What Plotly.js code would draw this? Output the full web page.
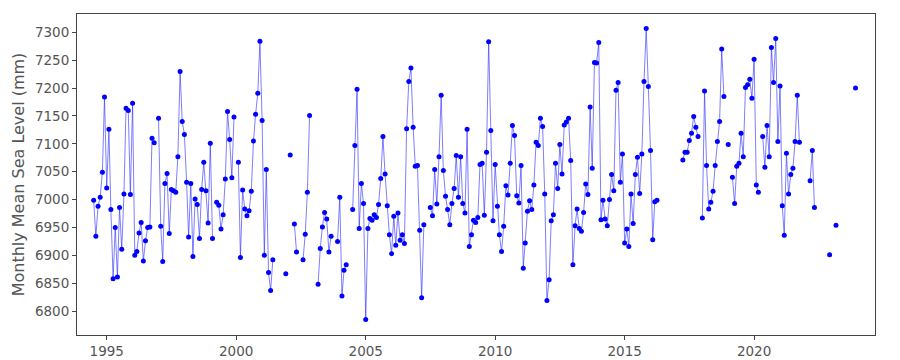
<!DOCTYPE html>
<html>
<head>
<meta charset="utf-8">
<script src="https://cdn.plot.ly/plotly-3.0.1.min.js"></script>
<style>
  html, body { margin: 0; padding: 0; background: #ffffff; }
  #chart { width: 900px; height: 360px; }
</style>
</head>
<body>
<div id="chart"></div>
<script>
// Monthly mean sea level (mm); each segment = start month + consecutive monthly values.
// Gaps between segments are missing months (line is broken there).
const seg01Start = '1994-07'; const seg01 = [6999, 6934, 6988, 7004, 7049, 7184, 7021, 7126, 6982, 6858, 6950, 6861, 6986, 6911, 7010, 7164, 7160, 7009, 7173, 6900, 6907, 6940, 6959, 6890, 6926, 6950, 6951, 7110, 7102];
const seg02Start = '1997-01'; const seg02 = [7146, 6952, 6889, 7029, 7047, 6939, 7018, 7016, 7013, 7077, 7230, 7140, 7117, 7031, 6933, 7029, 6898, 7001, 6991, 6930, 7018, 7067, 7016, 6958, 7101, 6930];
const seg03Start = '1999-04'; const seg03 = [6995, 6990, 6947, 6973, 7037, 7158, 7108, 7039, 7148];
const seg04Start = '2000-02'; const seg04 = [7067, 6896, 7017, 6983, 6971, 6980, 7015, 7105, 7153, 7191, 7284, 7142, 6900, 7054, 6869, 6837, 6892];
const seg05Start = '2001-12'; const seg05 = [6867];
const seg06Start = '2002-02'; const seg06 = [7080];
const seg07Start = '2002-04'; const seg07 = [6956, 6906];
const seg08Start = '2002-08'; const seg08 = [6892, 6938, 7013, 7151];
const seg09Start = '2003-03'; const seg09 = [6848, 6912, 6951, 6977, 6965, 6906, 6934];
const seg10Start = '2003-12'; const seg10 = [6925, 7004, 6827, 6873, 6883];
const seg11Start = '2004-07'; const seg11 = [6982, 7097, 7198, 6948, 7029, 6993, 6785, 6948, 6966, 6963, 6973, 6968, 6991, 7038, 7113, 7046, 6989, 6937, 6903, 6970, 6918, 6976, 6927, 6937, 6921, 7127, 7212, 7236, 7130, 7060, 7061, 6945, 6824, 6955];
const seg12Start = '2007-07'; const seg12 = [6986, 6971, 7054, 6992, 7077, 7187, 7052, 7006, 6982, 6955, 6993, 7020, 7079, 7004, 7077, 6993, 6976, 7126, 6916, 6937, 6963, 6959, 6968, 7063, 7065, 6972, 7085, 7283, 7124, 6962, 7063, 6988, 6937, 6907, 6952, 7025, 7008, 7065, 7133, 7115, 7007, 6994, 7061, 6877, 6922, 6979, 6998, 6982, 7026, 7103, 7097, 7146, 7131, 7010, 6819, 6856, 6962, 6973, 7065, 7020, 7099, 7046, 7134, 7139, 7146, 7070, 6883, 6953, 6983, 6948, 6943, 6977, 7028, 7009, 7166, 7056, 7246, 7245, 7282, 6964, 6999, 6965, 6953, 7000, 7045, 7016, 7196, 7210, 7031, 7082, 6922, 6947, 6916, 7010, 6957, 7045, 7076, 7011, 7082, 7212, 7307, 7203, 7088, 6928, 6996, 6999];
const seg13Start = '2017-04'; const seg13 = [7071, 7085, 7085, 7106, 7119, 7149, 7130, 7113];
const seg14Start = '2018-01'; const seg14 = [6967, 7195, 7061, 6983, 6995, 7015, 7061, 7104, 7140, 7270, 7185];
const seg15Start = '2019-01'; const seg15 = [7099];
const seg16Start = '2019-03'; const seg16 = [7040, 6993, 7060, 7065, 7119, 7077, 7201, 7206, 7216, 7182, 7252, 7026, 7013];
const seg17Start = '2020-05'; const seg17 = [7113, 7058, 7133, 7077, 7273, 7210, 7289, 7104, 7204, 6989, 6936, 7083, 7010, 7045, 7056, 7104, 7187, 7103];
const seg18Start = '2022-03'; const seg18 = [7034, 7088, 6986];
const seg19Start = '2022-12'; const seg19 = [6901];
const seg20Start = '2023-03'; const seg20 = [6954];
const seg21Start = '2023-12'; const seg21 = [7200];

const xTickVals = ['1995-01-01', '2000-01-01', '2005-01-01', '2010-01-01', '2015-01-01', '2020-01-01'];
const xTickText = ['1995', '2000', '2005', '2010', '2015', '2020'];
const yTickVals = [6800, 6850, 6900, 6950, 7000, 7050, 7100, 7150, 7200, 7250, 7300];

const segments = [
  [seg01Start, seg01], [seg02Start, seg02], [seg03Start, seg03], [seg04Start, seg04],
  [seg05Start, seg05], [seg06Start, seg06], [seg07Start, seg07], [seg08Start, seg08],
  [seg09Start, seg09], [seg10Start, seg10], [seg11Start, seg11], [seg12Start, seg12],
  [seg13Start, seg13], [seg14Start, seg14], [seg15Start, seg15], [seg16Start, seg16],
  [seg17Start, seg17], [seg18Start, seg18], [seg19Start, seg19], [seg20Start, seg20],
  [seg21Start, seg21]
];

function monthDate(start, offset) {
  const parts = start.split('-');
  let y = parseInt(parts[0], 10);
  let m = parseInt(parts[1], 10) - 1 + offset;
  y += Math.floor(m / 12);
  m = ((m % 12) + 12) % 12;
  return y + '-' + String(m + 1).padStart(2, '0') + '-01';
}

const xs = [];
const ys = [];
segments.forEach(function (seg, k) {
  const start = seg[0], vals = seg[1];
  vals.forEach(function (v, i) { xs.push(monthDate(start, i)); ys.push(v); });
  if (k < segments.length - 1) { xs.push(monthDate(start, vals.length)); ys.push(null); }
});

const trace = {
  type: 'scatter',
  mode: 'lines+markers',
  x: xs,
  y: ys,
  connectgaps: false,
  line: { color: 'rgba(40,40,255,0.6)', width: 1 },
  marker: { color: '#0000ff', size: 5 },
  hoverinfo: 'x+y'
};

const axisFont = { family: 'DejaVu Sans, sans-serif', size: 13.5, color: '#555555' };

const layout = {
  width: 900,
  height: 360,
  paper_bgcolor: '#ffffff',
  plot_bgcolor: '#ffffff',
  showlegend: false,
  margin: { l: 77, r: 25, t: 14, b: 25, pad: 0 },
  xaxis: {
    type: 'date',
    range: ['1993-11-08', '2024-09-01'],
    tickmode: 'array',
    tickvals: xTickVals,
    ticktext: xTickText,
    ticks: 'outside',
    ticklen: 4,
    tickwidth: 1,
    tickcolor: '#444444',
    tickfont: axisFont,
    showgrid: false,
    zeroline: false,
    showline: true,
    linecolor: '#444444',
    linewidth: 1,
    mirror: true
  },
  yaxis: {
    range: [6757, 7333],
    tickmode: 'array',
    tickvals: yTickVals,
    ticks: 'outside',
    ticklen: 4,
    tickwidth: 1,
    tickcolor: '#444444',
    tickfont: axisFont,
    showgrid: false,
    zeroline: false,
    showline: true,
    linecolor: '#444444',
    linewidth: 1,
    mirror: true,
    title: {
      text: 'Monthly Mean Sea Level (mm)',
      font: { family: 'DejaVu Sans, sans-serif', size: 16, color: '#555555' },
      standoff: 6
    },
    automargin: false
  }
};

Plotly.newPlot('chart', [trace], layout, { displayModeBar: false, staticPlot: true });
</script>
</body>
</html>
